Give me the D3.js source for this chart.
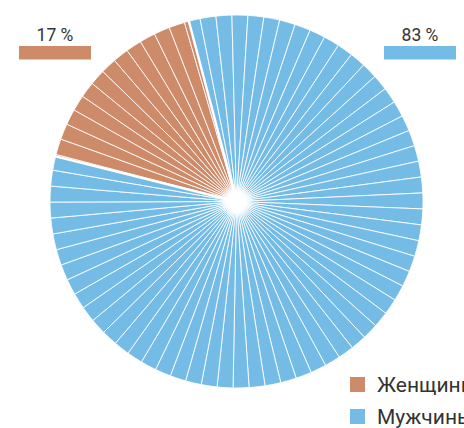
<!DOCTYPE html>
<html>
<head>
<meta charset="utf-8">
<script src="https://cdn.jsdelivr.net/npm/d3@7"></script>
<style>
  body { margin: 0; background: #fff; }
  svg { display: block; font-family: Roboto, "Noto Sans", sans-serif; }
</style>
</head>
<body>
<svg id="chart" width="464" height="428"></svg>
<script>
// Gender split
const categories = ["Женщины", "Мужчины"];
const shares = [17, 83];
const shareLabels = ["17 %", "83 %"];
const colors = ["#CD8B69", "#74BCE6"];
// number of radial stripes dividing the full circle
const stripeCount = 73;

const cx = 236.5, cy = 201.5, R = 186.5;
const deg = Math.PI / 180;
const pieStart = -76 * deg;          // where the first slice begins (clockwise from 12 o'clock)
const stripeOrigin = -70.45 * deg;   // angle of one stripe line
const stripeStep = 2 * Math.PI / stripeCount;

const svg = d3.select("#chart");
const defs = svg.append("defs");
const glow = defs.append("radialGradient").attr("id", "hub");
glow.append("stop").attr("offset", "0%").attr("stop-color", "#fff").attr("stop-opacity", 1);
glow.append("stop").attr("offset", "50%").attr("stop-color", "#fff").attr("stop-opacity", 1);
glow.append("stop").attr("offset", "100%").attr("stop-color", "#fff").attr("stop-opacity", 0);

const g = svg.append("g").attr("transform", `translate(${cx},${cy})`);

const data = categories.map((c, i) => ({ name: c, value: shares[i], color: colors[i], label: shareLabels[i] }));

const pie = d3.pie()
  .value(d => d.value)
  .sort(null)
  .startAngle(pieStart)
  .endAngle(pieStart + 2 * Math.PI);

const slices = pie(data);

// split every slice along the stripe grid
const pieces = [];
slices.forEach(s => {
  const kFirst = Math.ceil((s.startAngle - stripeOrigin) / stripeStep);
  let a = s.startAngle;
  for (let k = kFirst; ; k++) {
    const b = stripeOrigin + k * stripeStep;
    if (b >= s.endAngle - 1e-9) break;
    if (b > a + 1e-9) pieces.push({ startAngle: a, endAngle: b, color: s.data.color });
    a = b;
  }
  pieces.push({ startAngle: a, endAngle: s.endAngle, color: s.data.color });
});

const arc = d3.arc().innerRadius(0).outerRadius(R);

g.selectAll("path.piece")
  .data(pieces)
  .join("path")
  .attr("class", "piece")
  .attr("d", arc)
  .attr("fill", d => d.color)
  .attr("stroke", "#fff")
  .attr("stroke-opacity", 0.85)
  .attr("stroke-width", 1);

// wider gaps between the two categories
g.selectAll("line.gap")
  .data(slices)
  .join("line")
  .attr("class", "gap")
  .attr("x1", 0).attr("y1", 0)
  .attr("x2", d => Math.sin(d.startAngle) * (R + 1))
  .attr("y2", d => -Math.cos(d.startAngle) * (R + 1))
  .attr("stroke", "#fff")
  .attr("stroke-width", 2.5);

// white hub where the stripes meet
g.append("circle")
  .attr("r", 17)
  .attr("fill", "url(#hub)");

// share labels with colour bars
const labelPos = [{ x: 55, bx: 19 }, { x: 420, bx: 384 }];
const lab = svg.selectAll("g.share")
  .data(data)
  .join("g")
  .attr("class", "share");
lab.append("rect")
  .attr("x", (d, i) => labelPos[i].bx)
  .attr("y", 46)
  .attr("width", 72)
  .attr("height", 13.5)
  .attr("fill", d => d.color);
lab.append("text")
  .attr("x", (d, i) => labelPos[i].x)
  .attr("y", 40.5)
  .attr("text-anchor", "middle")
  .attr("font-size", 17.5)
  .attr("fill", "#333")
  .text(d => d.label);

// legend
const leg = svg.selectAll("g.legend")
  .data(data)
  .join("g")
  .attr("class", "legend")
  .attr("transform", (d, i) => `translate(350,${377 + i * 32})`);
leg.append("rect")
  .attr("width", 15)
  .attr("height", 15)
  .attr("fill", d => d.color);
leg.append("text")
  .attr("x", 27)
  .attr("y", 15)
  .attr("font-size", 21)
  .attr("fill", "#333")
  .text(d => d.name);
</script>
</body>
</html>
